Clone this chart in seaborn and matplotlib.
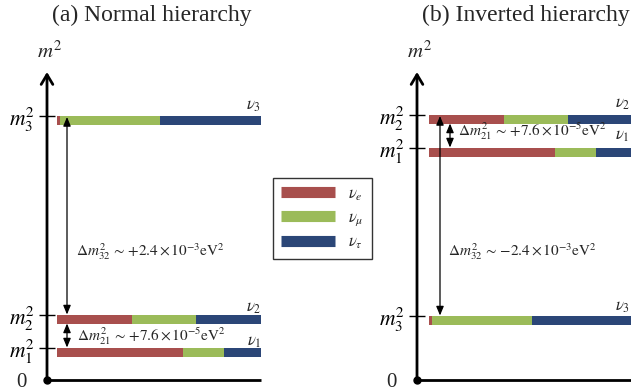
import matplotlib
matplotlib.use("Agg")
import matplotlib.pyplot as plt
from matplotlib.lines import Line2D
import seaborn as sns

# Flavour content of each mass eigenstate: fractions of nu_e, nu_mu, nu_tau
flavour_labels = [r"$\nu_e$", r"$\nu_\mu$", r"$\nu_\tau$"]
flavour_colors = ["#A84F4D", "#9BBB59", "#2B4677"]

state_names = [r"$\nu_1$", r"$\nu_2$", r"$\nu_3$"]
level_names = [r"$m_1^2$", r"$m_2^2$", r"$m_3^2$"]
frac_e = [0.62, 0.37, 0.015]
frac_mu = [0.20, 0.31, 0.49]
frac_tau = [0.18, 0.32, 0.495]

# Schematic m^2 levels (not to scale) for the two orderings
levels_normal = [0.32, 0.65, 2.64]
levels_inverted = [2.32, 2.65, 0.64]

titles = ["(a) Normal hierarchy", "(b) Inverted hierarchy"]
dm21_label = r"$\Delta m^2_{21}\,{\sim}\,{+}7.6\,{\times}\,10^{-5}\mathrm{eV}^2$"
dm32_labels = [r"$\Delta m^2_{32}\,{\sim}\,{+}2.4\,{\times}\,10^{-3}\mathrm{eV}^2$",
               r"$\Delta m^2_{32}\,{\sim}\,{-}2.4\,{\times}\,10^{-3}\mathrm{eV}^2$"]

sns.set_theme(style="white")
plt.rcParams["font.family"] = ["Liberation Serif", "DejaVu Serif"]
plt.rcParams["mathtext.fontset"] = "stix"

W, H = 631, 392
fig = plt.figure(figsize=(W / 100, H / 100), dpi=100)
fig.patch.set_facecolor("white")

YTOP = 3.08
BAR_H = 0.09


def px(n):
    """horizontal pixel distance -> axes x units (axes are 214 px wide)"""
    return n / 214.0


def draw_panel(ax, levels, bar_start, title, spec):
    ax.set_xlim(0, 1)
    ax.set_ylim(0, YTOP)
    ax.set_facecolor("none")
    for s in ax.spines.values():
        s.set_visible(False)
    ax.set_xticks([])
    width = 1 - px(10)

    for i, lev in enumerate(levels):
        left = bar_start
        for frac, col in zip((frac_e[i], frac_mu[i], frac_tau[i]), flavour_colors):
            ax.barh(lev, frac * width, left=left, height=-BAR_H, align="edge",
                    color=col, edgecolor="none", clip_on=False)
            left += frac * width

    # axes drawn as arrows with a dot at the origin
    ax.annotate("", xy=(0, YTOP), xytext=(0, 0), xycoords="data",
                arrowprops=dict(arrowstyle="->,head_length=0.5,head_width=0.3",
                                lw=2, color="black", shrinkA=0, shrinkB=0,
                                mutation_scale=14), annotation_clip=False)
    ax.plot([0, 1.0], [0, 0], color="black", lw=2, clip_on=False,
            solid_capstyle="butt")
    ax.plot([0], [0], "o", color="black", ms=5, clip_on=False)

    ax.set_yticks(levels)
    ax.set_yticklabels(level_names, fontsize=15.5)
    ax.tick_params(axis="y", direction="inout", length=11, width=1,
                   color="black", left=True, pad=3, labelcolor="black")
    ax.text(px(-26), -0.025, "0", fontsize=15, ha="center", va="center")
    ax.text(px(3), YTOP + 0.2, r"$m^2$", fontsize=15, ha="center", va="center")
    ax.set_title(title, fontsize=17, pad=0, y=1.165, x=spec["title_x"])

    # mass-splitting arrows
    for x, y0, y1 in spec["lines"]:
        ax.annotate("", xy=(x, y1), xytext=(x, y0),
                    arrowprops=dict(arrowstyle="<|-|>,head_length=0.6,head_width=0.25",
                                    lw=0.9, color="black", shrinkA=0, shrinkB=0,
                                    mutation_scale=9), annotation_clip=False)
    for x, y, txt in spec["texts"]:
        ax.text(x, y, txt, fontsize=11, ha="left", va="center")
    for x, y, txt in spec["nus"]:
        ax.text(x, y, txt, fontsize=12, ha="right", va="center", clip_on=False)


ax1 = fig.add_axes([47 / W, 12 / H, 214 / W, 308 / H])
ax2 = fig.add_axes([417 / W, 12 / H, 214 / W, 308 / H])

n = levels_normal
draw_panel(ax1, n, px(10), titles[0], {
    "title_x": 0.49,
    "lines": [(px(20), n[1] + 0.005, n[2] - 0.01),
              (px(20), n[0] + 0.005, n[1] - BAR_H + 0.005)],
    "texts": [(px(29), 1.28, dm32_labels[0]), (px(30), 0.44, dm21_label)],
    "nus": [(1.0, n[2] + 0.1, state_names[2]), (1.0, n[1] + 0.07, state_names[1]),
            (1.0, n[0] + 0.06, state_names[0])],
})

v = levels_inverted
draw_panel(ax2, v, px(12), titles[1], {
    "title_x": 0.51,
    "lines": [(px(23), v[2] + 0.005, v[1] - 0.01),
              (px(33), v[0] + 0.005, v[1] - BAR_H + 0.005)],
    "texts": [(px(31), 1.28, dm32_labels[1]), (px(41), 2.49, dm21_label)],
    "nus": [(0.995, v[1] + 0.11, state_names[1]), (0.995, v[0] + 0.12, state_names[0]),
            (0.995, v[2] + 0.09, state_names[2])],
})

# flavour legend
handles = [Line2D([], [], color=c, lw=8, solid_capstyle="butt") for c in flavour_colors]
leg = fig.legend(handles, flavour_labels, loc="upper left",
                 bbox_to_anchor=(273 / W, 1 - 178 / H), fontsize=12,
                 frameon=True, fancybox=False, edgecolor="black",
                 handlelength=3.2, handletextpad=0.8, labelspacing=0.4,
                 borderpad=0.5, borderaxespad=0)
leg.get_frame().set_linewidth(1.0)

fig.savefig("out.png", dpi=100, facecolor="white")
